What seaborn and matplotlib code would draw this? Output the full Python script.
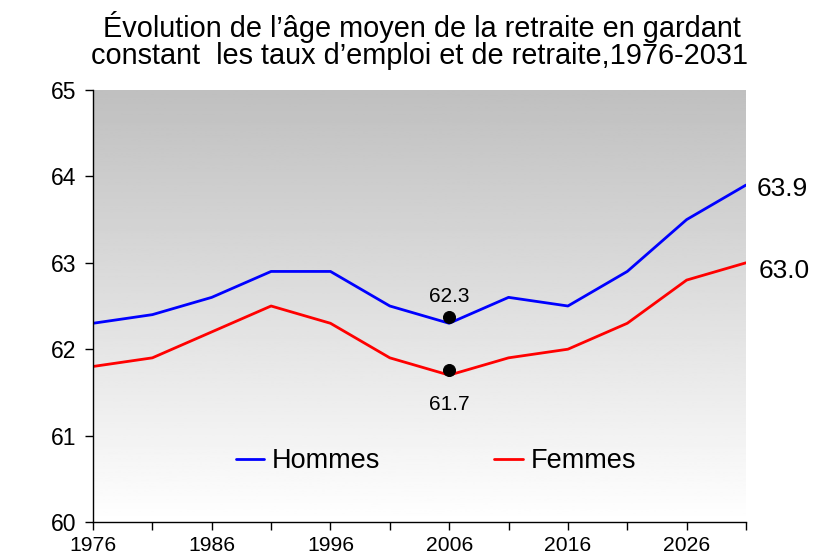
import numpy as np
import pandas as pd
import matplotlib
matplotlib.use("Agg")
import matplotlib.pyplot as plt
import seaborn as sns

years = [1976, 1981, 1986, 1991, 1996, 2001, 2006, 2011, 2016, 2021, 2026, 2031]
hommes = [62.3, 62.4, 62.6, 62.9, 62.9, 62.5, 62.3, 62.6, 62.5, 62.9, 63.5, 63.9]
femmes = [61.8, 61.9, 62.2, 62.5, 62.3, 61.9, 61.7, 61.9, 62.0, 62.3, 62.8, 63.0]
series_names = ["Hommes", "Femmes"]
dot_years = [2006, 2006]
dot_values = [62.37, 61.76]
dot_labels = ["62.3", "61.7"]
end_labels = ["63.9", "63.0"]
title_lines = ["Évolution de l’âge moyen de la retraite en gardant",
               "constant  les taux d’emploi et de retraite,1976-2031"]

sns.set_theme(style="white")
plt.rcParams["font.family"] = ["Liberation Sans", "DejaVu Sans"]
plt.rcParams["text.color"] = "black"

df = pd.DataFrame({
    "year": years * 2,
    "value": hommes + femmes,
    "serie": [series_names[0]] * len(years) + [series_names[1]] * len(years),
})

W, H = 825, 559
fig = plt.figure(figsize=(W / 100, H / 100), dpi=100)
ax = fig.add_axes([93 / W, 1 - 522 / H, (746 - 93) / W, (522 - 90) / H])

# gradient background
grad = np.linspace(0.75, 1.0, 256).reshape(-1, 1)
ax.imshow(grad, extent=[0, 1, 0, 1], transform=ax.transAxes, cmap="gray",
          vmin=0, vmax=1, aspect="auto", zorder=0, origin="upper")

sns.lineplot(data=df, x="year", y="value", hue="serie",
             palette={"Hommes": "#0000ff", "Femmes": "#ff0000"},
             linewidth=2.0, ax=ax, zorder=2, legend=True)

sns.scatterplot(x=dot_years, y=dot_values, color="black", s=75, ax=ax,
                zorder=3, legend=False, edgecolor="black")

ax.set_xlim(1976, 2031)
ax.set_ylim(60, 65)
all_ticks = list(range(1976, 2032, 5))
ax.set_xticks(all_ticks)
ax.set_xticklabels([str(y) if (y - 1976) % 10 == 0 else "" for y in all_ticks])
ax.set_yticks([60, 61, 62, 63, 64, 65])
ax.set_xlabel("")
ax.set_ylabel("")
ax.tick_params(axis="both", which="both", direction="out", length=6, width=1,
               color="black", bottom=True, left=True, labelcolor="black")
ax.tick_params(axis="x", pad=4, labelsize=15.2)
ax.tick_params(axis="y", pad=6, labelsize=16.5)
for s in ["top", "right"]:
    ax.spines[s].set_visible(False)
for s in ["left", "bottom"]:
    ax.spines[s].set_color("black")
    ax.spines[s].set_linewidth(1.0)

# title (two lines)
fig.text(422 / W, 1 - 27 / H, title_lines[0], ha="center", va="center",
         fontsize=20.8, color="black")
fig.text(420 / W, 1 - 56 / H, title_lines[1], ha="center", va="center",
         fontsize=20.8, color="black")

# dot labels
ax.annotate(dot_labels[0], (dot_years[0], dot_values[0]), xytext=(0, 8),
            textcoords="offset points", ha="center", va="bottom", fontsize=15,
            color="black")
ax.annotate(dot_labels[1], (dot_years[1], dot_values[1]), xytext=(0, -18),
            textcoords="offset points", ha="center", va="top", fontsize=15,
            color="black")

# end labels
ax.annotate(end_labels[0], (years[-1], hommes[-1]), xytext=(8, -3),
            textcoords="offset points", ha="left", va="center", fontsize=19,
            annotation_clip=False, color="black")
ax.annotate(end_labels[1], (years[-1], femmes[-1]), xytext=(9, -6),
            textcoords="offset points", ha="left", va="center", fontsize=19,
            annotation_clip=False, color="black")

leg = ax.legend(loc="center", bbox_to_anchor=((436 - 93) / 653, (522 - 461) / 432),
                ncol=2, frameon=False, fontsize=19.5, handlelength=1.05,
                handletextpad=0.3, columnspacing=4.2)
for h in leg.legend_handles:
    h.set_linewidth(2.0)
for t in leg.get_texts():
    t.set_color("black")

fig.savefig("out.png", dpi=100)
